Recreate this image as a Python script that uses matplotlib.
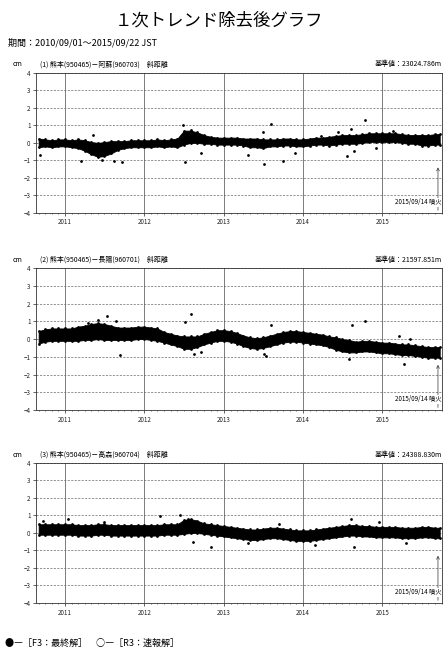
import numpy as np
import pandas as pd
import matplotlib
matplotlib.use("Agg")
import matplotlib.pyplot as plt
import matplotlib.dates as mdates

plt.rcParams['font.family'] = ['Noto Sans CJK JP', 'DejaVu Sans']

# 月ごとの帯の中心値と半幅 (cm) 2010/09 ～ 2015/09 + 最終日
band_dates = list(pd.date_range("2010-09-01", "2015-09-01", freq="MS")) + [pd.Timestamp("2015-09-22")]

center1 = [0.0, 0.0, -0.05, 0.0,
           0.0, -0.05, -0.05, -0.15, -0.3, -0.4, -0.35, -0.25, -0.15, -0.1, -0.05, -0.05,
           -0.05, -0.05, 0.0, -0.05, 0.0, 0.0, 0.3, 0.35, 0.3, 0.2, 0.15, 0.1,
           0.1, 0.1, 0.1, 0.05, 0.0, 0.0, -0.05, 0.0, 0.0, 0.05, 0.05, 0.0,
           0.0, 0.05, 0.1, 0.1, 0.1, 0.15, 0.2, 0.2, 0.2, 0.25, 0.3, 0.3,
           0.3, 0.3, 0.3, 0.25, 0.2, 0.2, 0.15, 0.15, 0.2, 0.2]
half1 = [0.25, 0.2, 0.2, 0.2,
         0.2, 0.2, 0.25, 0.3, 0.35, 0.4, 0.4, 0.35, 0.25, 0.2, 0.2, 0.2,
         0.2, 0.2, 0.2, 0.2, 0.2, 0.25, 0.4, 0.35, 0.3, 0.25, 0.2, 0.2,
         0.2, 0.2, 0.2, 0.2, 0.25, 0.25, 0.25, 0.2, 0.2, 0.2, 0.2, 0.2,
         0.2, 0.2, 0.2, 0.2, 0.25, 0.25, 0.25, 0.25, 0.25, 0.25, 0.25, 0.25,
         0.25, 0.25, 0.25, 0.25, 0.25, 0.25, 0.3, 0.3, 0.3, 0.3]

center2 = [0.1, 0.2, 0.25, 0.25,
           0.25, 0.25, 0.3, 0.35, 0.4, 0.45, 0.4, 0.35, 0.3, 0.3, 0.3, 0.35,
           0.35, 0.3, 0.25, 0.1, 0.0, -0.1, -0.2, -0.2, -0.15, 0.0, 0.1, 0.2,
           0.2, 0.15, 0.05, -0.1, -0.2, -0.25, -0.2, -0.1, 0.0, 0.1, 0.15, 0.15,
           0.1, 0.05, 0.0, -0.05, -0.15, -0.25, -0.35, -0.4, -0.45, -0.4, -0.4, -0.45,
           -0.5, -0.5, -0.55, -0.6, -0.6, -0.65, -0.7, -0.75, -0.75, -0.75]
half2 = [0.35, 0.35, 0.35, 0.35,
         0.35, 0.35, 0.4, 0.4, 0.45, 0.45, 0.45, 0.4, 0.35, 0.35, 0.35, 0.35,
         0.35, 0.35, 0.35, 0.3, 0.3, 0.3, 0.35, 0.35, 0.3, 0.3, 0.3, 0.3,
         0.3, 0.3, 0.3, 0.3, 0.3, 0.3, 0.3, 0.3, 0.3, 0.3, 0.3, 0.3,
         0.3, 0.3, 0.3, 0.3, 0.3, 0.35, 0.35, 0.35, 0.3, 0.3, 0.3, 0.3,
         0.3, 0.3, 0.3, 0.3, 0.3, 0.3, 0.3, 0.3, 0.3, 0.3]

center3 = [0.2, 0.2, 0.2, 0.2,
           0.2, 0.2, 0.15, 0.15, 0.15, 0.2, 0.2, 0.15, 0.15, 0.15, 0.15, 0.15,
           0.15, 0.15, 0.15, 0.2, 0.2, 0.2, 0.35, 0.4, 0.35, 0.25, 0.2, 0.15,
           0.1, 0.05, 0.0, -0.05, -0.1, -0.1, -0.05, 0.0, 0.0, -0.05, -0.1, -0.15,
           -0.15, -0.15, -0.1, -0.05, 0.0, 0.05, 0.1, 0.15, 0.15, 0.1, 0.1, 0.05,
           0.05, 0.05, 0.05, 0.0, 0.0, 0.0, 0.05, 0.05, 0.0, 0.0]
half3 = [0.3] * 22 + [0.4, 0.4, 0.35] + [0.3] * 37

# 外れ値
out1_dates = ["2010-09-05", "2011-03-17", "2011-05-08", "2011-06-21", "2011-08-15", "2011-09-20",
              "2012-06-25", "2012-07-05", "2012-08-03", "2012-09-16", "2013-04-20", "2013-07-01",
              "2013-07-03", "2013-08-08", "2013-10-01", "2013-11-25", "2014-03-25", "2014-06-10",
              "2014-07-20", "2014-08-10", "2014-08-25", "2014-10-12", "2014-12-01", "2015-02-18"]
out1_vals = [-0.7, -1.05, 0.45, -1.0, -1.05, -1.1,
             1.0, -1.1, 0.75, -0.6, -0.7, 0.6,
             -1.2, 1.1, -1.05, -0.6, 0.4, 0.65,
             -0.75, 0.8, -0.45, 1.3, -0.3, 0.7]

out2_dates = ["2011-04-15", "2011-06-03", "2011-07-13", "2011-08-25", "2011-09-10", "2012-07-05",
              "2012-08-03", "2012-08-18", "2012-09-16", "2013-07-05", "2013-07-15", "2013-08-08",
              "2014-08-15", "2014-10-12", "2014-07-30", "2015-03-18", "2015-05-08", "2015-04-12"]
out2_vals = [0.88, 1.1, 1.3, 1.0, -0.9, 0.97,
             1.4, -0.85, -0.75, -0.85, -0.95, 0.8,
             0.8, 1.0, -1.1, 0.15, 0.0, -1.4]

out3_dates = ["2010-09-20", "2011-01-15", "2011-07-01", "2012-03-15", "2012-06-15", "2012-07-20",
              "2012-08-10", "2012-11-05", "2013-04-20", "2013-09-10", "2014-02-25", "2014-08-10",
              "2014-08-25", "2014-12-15", "2015-04-20"]
out3_vals = [0.7, 0.8, 0.6, 0.95, 1.0, 0.8,
             -0.5, -0.8, -0.6, 0.5, -0.7, 0.8,
             -0.8, 0.6, -0.6]

titles = ["(1) 熊本(950465)－阿蘇(960703)　斜距離",
          "(2) 熊本(950465)－長陽(960701)　斜距離",
          "(3) 熊本(950465)－高森(960704)　斜距離"]
base_values = ["基準値：23024.786m", "基準値：21597.851m", "基準値：24388.830m"]
arrow_tips = [-1.4, -1.45, -1.3]
eruption = pd.Timestamp("2015-09-14")
years = [2011, 2012, 2013, 2014, 2015]

panels = [(center1, half1, out1_dates, out1_vals),
          (center2, half2, out2_dates, out2_vals),
          (center3, half3, out3_dates, out3_vals)]

fig = plt.figure(figsize=(4.45, 6.53), dpi=100)
fig.text(0.493, 0.969, "１次トレンド除去後グラフ", ha='center', va='center', fontsize=12.5)
fig.text(0.018, 0.935, "期間：2010/09/01～2015/09/22 JST", ha='left', va='center', fontsize=6.5)

rects = [[0.081, 0.674, 0.912, 0.2144],
         [0.081, 0.372, 0.912, 0.2175],
         [0.081, 0.0766, 0.912, 0.2144]]

for i, (c, h, od, ov) in enumerate(panels):
    ax = fig.add_axes(rects[i])
    c = np.array(c)
    h = np.array(h)
    ax.fill_between(band_dates, c - h, c + h, color='black', lw=0.6, zorder=3)
    # 帯の縁のざらつき
    ax.scatter(band_dates, c - h, s=4, color='black', zorder=3, lw=0)
    ax.scatter(band_dates, c + h, s=4, color='black', zorder=3, lw=0)
    ax.scatter(pd.to_datetime(od), ov, s=4, color='black', zorder=4, lw=0)

    ax.set_ylim(-4, 4)
    ax.set_xlim(pd.Timestamp("2010-08-20"), pd.Timestamp("2015-10-02"))
    ax.set_yticks(range(-4, 5))
    ax.set_xticks([pd.Timestamp(f"{y}-01-01") for y in years])
    ax.set_xticklabels([str(y) for y in years])
    ax.xaxis.set_minor_locator(mdates.MonthLocator())
    ax.tick_params(axis='both', labelsize=4.5, length=2, width=0.5, pad=2, colors='#222222')
    ax.tick_params(axis='x', which='minor', length=1, width=0.4)
    ax.grid(axis='y', color='#666666', lw=0.5, ls=(0, (3, 2)))
    ax.grid(axis='x', which='major', color='#666666', lw=0.6)
    for s in ax.spines.values():
        s.set_linewidth(0.6)
        s.set_color('#333333')

    ax.annotate("", xy=(eruption, arrow_tips[i]), xytext=(eruption, -3.85),
                arrowprops=dict(arrowstyle='->', lw=0.5, color='#333333', shrinkA=0, shrinkB=0,
                                mutation_scale=5), zorder=5)
    ax.text(0.998, 0.075, "2015/09/14 噴火", transform=ax.transAxes, ha='right', va='center',
            fontsize=4.5, zorder=6, bbox=dict(fc='white', ec='none', pad=0.3))

    ax.text(-0.045, 1.06, "cm", transform=ax.transAxes, ha='center', va='center', fontsize=5)
    ax.text(0.01, 1.06, titles[i], transform=ax.transAxes, ha='left', va='center', fontsize=5)
    ax.text(1.0, 1.06, base_values[i], transform=ax.transAxes, ha='right', va='center', fontsize=5)

fig.text(0.012, 0.015, "●―［F3：最終解］　○―［R3：速報解］", ha='left', va='center', fontsize=6.5)

fig.savefig("out.png", dpi=100)
